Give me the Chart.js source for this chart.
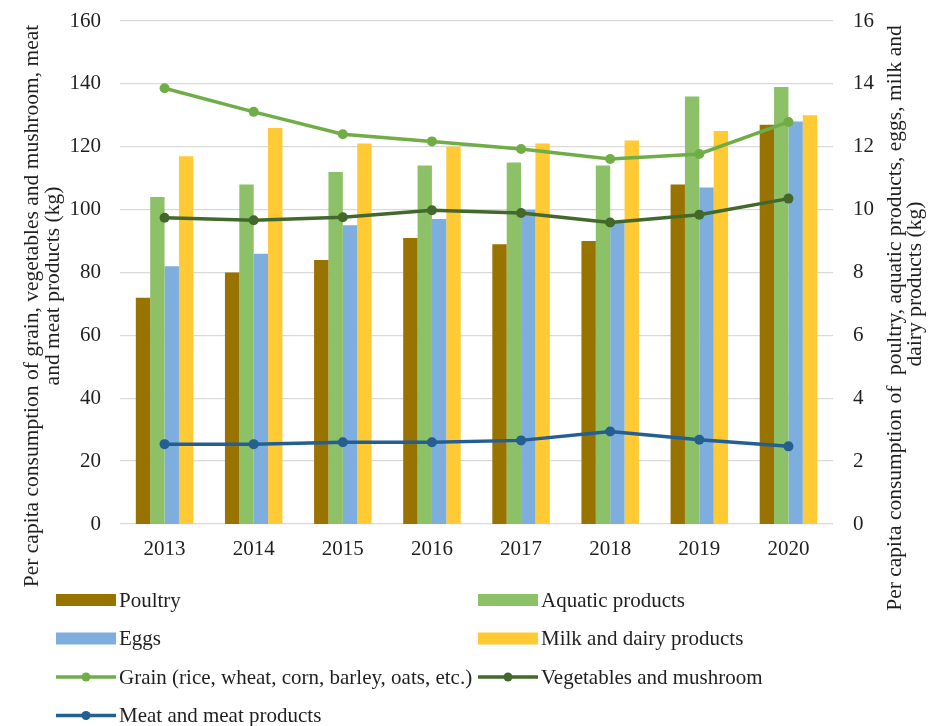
<!DOCTYPE html>
<html>
<head>
<meta charset="utf-8">
<title>Per capita consumption</title>
<script src="https://cdn.jsdelivr.net/npm/chart.js@4.4.1/dist/chart.umd.min.js"></script>
<style>
  html, body { margin: 0; padding: 0; background: #fff; }
  #wrap { position: relative; width: 934px; height: 726px; }
</style>
</head>
<body>
<div id="wrap"><canvas id="chart" width="934" height="726"></canvas></div>
<script>
/* data */
const years = ['2013', '2014', '2015', '2016', '2017', '2018', '2019', '2020'];

// bars, right axis (kg)
const poultry = [7.2, 8.0, 8.4, 9.1, 8.9, 9.0, 10.8, 12.7];
const aquatic = [10.4, 10.8, 11.2, 11.4, 11.5, 11.4, 13.6, 13.9];
const eggs = [8.2, 8.6, 9.5, 9.7, 10.0, 9.6, 10.7, 12.8];
const milk = [11.7, 12.6, 12.1, 12.0, 12.1, 12.2, 12.5, 13.0];

// lines, left axis (kg)
const grain = [138.6, 131.1, 124.0, 121.7, 119.3, 116.1, 117.7, 127.9];
const vegetables = [97.4, 96.6, 97.6, 99.8, 98.9, 95.9, 98.4, 103.5];
const meat = [25.4, 25.4, 26.0, 26.0, 26.6, 29.4, 26.8, 24.7];

const leftTicks = [0, 20, 40, 60, 80, 100, 120, 140, 160];
const rightTicks = [0, 2, 4, 6, 8, 10, 12, 14, 16];

const leftTitle = ['Per capita consumption of grain, vegetables and mushroom, meat', 'and meat products (kg)'];
const rightTitle = ['Per capita consumption of  poultry, aquatic products, eggs, milk and', 'dairy products (kg)'];

const FONT = "'Liberation Serif', 'Times New Roman', serif";
const TEXT = '#1f1f1f';

// axis titles drawn by hand so each line can sit where the reference has it
const axisTitles = {
  id: 'axisTitles',
  afterDraw(chart) {
    const ctx = chart.ctx;
    ctx.save();
    ctx.fillStyle = TEXT;
    ctx.font = '21.5px ' + FONT;
    ctx.textAlign = 'center';
    ctx.textBaseline = 'middle';
    const put = (txt, x, y) => {
      ctx.save();
      ctx.translate(x, y);
      ctx.rotate(-Math.PI / 2);
      ctx.fillText(txt, 0, 0);
      ctx.restore();
    };
    put(leftTitle[0], 32, 306);
    put(leftTitle[1], 53, 286);
    put(rightTitle[0], 895, 318);
    put(rightTitle[1], 915, 284);
    ctx.restore();
  }
};

// two-column legend like the Excel one
const gridLegend = {
  id: 'gridLegend',
  afterDraw(chart) {
    const ctx = chart.ctx;
    const cols = [56, 478];
    const sw = 60;
    ctx.save();
    ctx.font = '21px ' + FONT;
    ctx.textBaseline = 'middle';
    ctx.textAlign = 'left';
    chart.data.datasets.forEach((ds, i) => {
      const x = cols[i % 2];
      const y = 600 + Math.floor(i / 2) * 38.5;
      if (ds.type === 'line') {
        ctx.strokeStyle = ds.borderColor;
        ctx.lineWidth = 3.5;
        ctx.beginPath();
        ctx.moveTo(x, y);
        ctx.lineTo(x + sw, y);
        ctx.stroke();
        ctx.fillStyle = ds.borderColor;
        ctx.beginPath();
        ctx.arc(x + sw / 2, y, 4.5, 0, Math.PI * 2);
        ctx.fill();
      } else {
        ctx.fillStyle = ds.backgroundColor;
        ctx.fillRect(x, y - 6, sw, 12);
      }
      ctx.fillStyle = TEXT;
      ctx.fillText(ds.label, x + sw + 3, y + 1);
    });
    ctx.restore();
  }
};

function barSet(label, data, color) {
  return {
    type: 'bar', label, data, yAxisID: 'y1', order: 2,
    backgroundColor: color, borderWidth: 0,
    barPercentage: 1, categoryPercentage: 0.645
  };
}

function lineSet(label, data, color) {
  return {
    type: 'line', label, data, yAxisID: 'y', order: 1,
    borderColor: color, backgroundColor: color, borderWidth: 3.5,
    pointRadius: 5, pointBackgroundColor: color, pointBorderWidth: 0,
    tension: 0, fill: false
  };
}

const noPad = s => { s.paddingTop = 0; s.paddingBottom = 0; };

const ctx = document.getElementById('chart').getContext('2d');
const chart = new Chart(ctx, {
  type: 'bar',
  data: {
    labels: years,
    datasets: [
      barSet('Poultry', poultry, '#997300'),
      barSet('Aquatic products', aquatic, '#8dc168'),
      barSet('Eggs', eggs, '#7eaedd'),
      barSet('Milk and dairy products', milk, '#ffca33'),
      lineSet('Grain (rice, wheat, corn, barley, oats, etc.)', grain, '#70ad47'),
      lineSet('Vegetables and mushroom', vegetables, '#43682b'),
      lineSet('Meat and meat products', meat, '#255e91')
    ]
  },
  options: {
    responsive: false,
    animation: false,
    layout: { padding: { top: 21, bottom: 162, left: 0, right: 0 } },
    plugins: {
      legend: { display: false },
      tooltip: { enabled: false },
      title: { display: false }
    },
    scales: {
      x: {
        offset: true,
        grid: { display: false, drawTicks: false },
        border: { display: false },
        ticks: { color: TEXT, font: { size: 21, family: FONT }, padding: 13 },
        afterFit: s => { s.height = 40; }
      },
      y: {
        position: 'left',
        min: 0, max: 160,
        afterBuildTicks: s => { s.ticks = leftTicks.map(v => ({ value: v })); },
        grid: { color: '#d9d9d9', lineWidth: 1.3, drawTicks: false },
        border: { display: false },
        ticks: { color: TEXT, font: { size: 21, family: FONT }, padding: 19 },
        afterFit: s => { s.width = 120; noPad(s); }
      },
      y1: {
        position: 'right',
        min: 0, max: 16,
        afterBuildTicks: s => { s.ticks = rightTicks.map(v => ({ value: v })); },
        grid: { display: false, drawTicks: false },
        border: { display: false },
        ticks: { color: TEXT, font: { size: 21, family: FONT }, padding: 20 },
        afterFit: s => { s.width = 101; noPad(s); }
      }
    }
  },
  plugins: [axisTitles, gridLegend]
});
</script>
</body>
</html>
